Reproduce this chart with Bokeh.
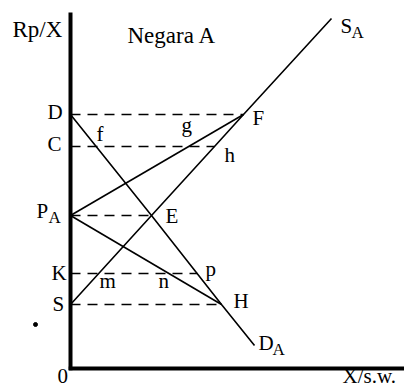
from bokeh.plotting import figure
from bokeh.models import Range1d, ColumnDataSource
from bokeh.core.properties import value
from bokeh.embed import file_html
from bokeh.resources import INLINE

# ---- data (quantity X, price Rp/X) ----
price_names = ["D", "C", "PA", "K", "S"]
price_levels = [25.4, 22.2, 15.3, 9.5, 6.4]

# demand curve D_A : D -> E -> H -> end
demand_q = [0.0, 8.1, 15.1, 18.4]
demand_p = [25.4, 15.3, 6.4, 2.3]

# supply curve S_A : S -> E -> h -> F -> end
supply_q = [0.0, 8.1, 14.4, 17.3, 26.1]
supply_p = [6.4, 15.3, 22.2, 25.4, 35.0]

# trade lines from P_A to F and to H
trade_up_q = [0.0, 17.3]
trade_up_p = [15.3, 25.4]
trade_dn_q = [0.0, 15.1]
trade_dn_p = [15.3, 6.4]

# horizontal dashed guides: price level -> quantity where they end
guide_p = [25.4, 22.2, 15.3, 9.5, 6.4]
guide_end_q = [17.3, 14.4, 8.1, 12.7, 15.1]

axis_top = 35.6
axis_right = 33.4

serif = value("Liberation Serif")

p = figure(width=404, height=389, output_backend="svg", toolbar_location=None,
           x_range=Range1d(-7.0, 33.4), y_range=Range1d(-2.1, 36.8),
           min_border=0)
p.xaxis.visible = False
p.yaxis.visible = False
p.xgrid.grid_line_color = None
p.ygrid.grid_line_color = None
p.outline_line_color = None
p.background_fill_color = "white"
p.border_fill_color = "white"

# axes
p.segment(x0=[0, -0.18], y0=[-0.18, 0], x1=[0, axis_right], y1=[axis_top, 0],
          line_color="black", line_width=4)

# dashed guides
p.segment(x0=[0] * len(guide_p), y0=guide_p, x1=guide_end_q, y1=guide_p,
          line_color="black", line_width=1.3, line_dash="10 7")

# curves
lw = 1.6
p.line(demand_q, demand_p, line_color="black", line_width=lw)
p.line(supply_q, supply_p, line_color="black", line_width=lw)
p.line(trade_up_q, trade_up_p, line_color="black", line_width=lw)
p.line(trade_dn_q, trade_dn_p, line_color="black", line_width=lw)

# stray dot
p.scatter([-3.5], [4.4], size=4, color="black")

# ---- text annotations (picture px -> data: x=(px-70)/10, y=(368-py)/10) ----
SHIFT = 8  # svg text sits lower than the given baseline; compensate

def X(px):
    return (px - 70) / 10.0

def Y(py):
    return (368 - (py - SHIFT)) / 10.0

big = [  # text, left px, baseline px
    ("Rp/X", 12, 37),
    ("Negara A", 127, 43),
]
main = [
    ("S", 340, 33),
    ("D", 47, 119),
    ("C", 47, 151),
    ("P", 36, 218),
    ("K", 51, 280),
    ("S", 52, 311),
    ("0", 57, 383),
    ("f", 96, 141),
    ("g", 181, 132),
    ("h", 224, 162),
    ("F", 252, 125),
    ("E", 165, 223),
    ("m", 99, 288),
    ("n", 158, 288),
    ("p", 205, 276),
    ("H", 233, 308),
    ("D", 258, 350),
    ("X/s.w.", 342, 383),
]
subs = [
    ("A", 351, 40),
    ("A", 48, 225),
    ("A", 272, 357),
]

def add_text(items, size):
    src = ColumnDataSource(dict(
        x=[X(i[1]) for i in items],
        y=[Y(i[2]) for i in items],
        t=[i[0] for i in items]))
    p.text(x="x", y="y", text="t", source=src, text_font=serif,
           text_font_size=size, text_align="left", text_baseline="alphabetic",
           text_color="black")

add_text(big, "23px")
add_text(main, "21px")
add_text(subs, "17px")

open("out.html", "w").write(file_html(p, INLINE))
